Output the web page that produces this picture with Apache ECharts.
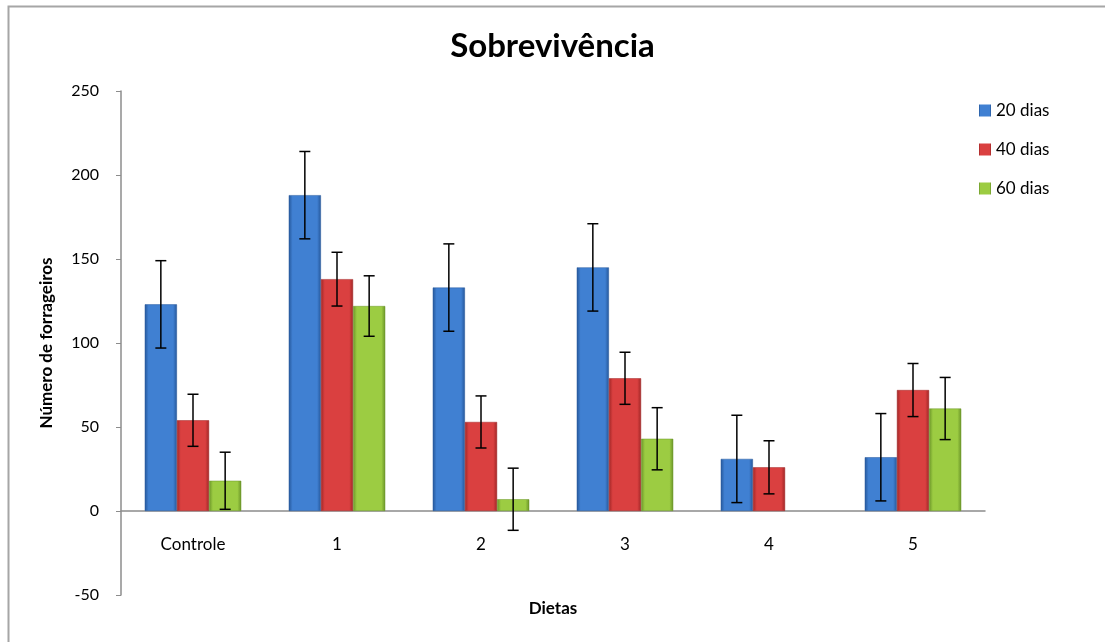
<!DOCTYPE html>
<html>
<head>
<meta charset="utf-8">
<script src="https://cdn.jsdelivr.net/npm/echarts@6/dist/echarts.min.js"></script>
<style>html,body{margin:0;padding:0;background:#fff;}#c{width:1105px;height:642px;}</style>
</head>
<body>
<div id="c"></div>
<script>
var categories = ['Controle', '1', '2', '3', '4', '5'];
var seriesNames = ['20 dias', '40 dias', '60 dias'];
var dias20 = [123, 188, 133, 145, 31, 32];
var dias40 = [54, 138, 53, 79, 26, 72];
var dias60 = [18, 122, 7, 43, null, 61];
var err20 = [26, 26, 26, 26, 26, 26];
var err40 = [15.5, 16, 15.5, 15.5, 15.8, 15.8];
var err60 = [17, 18, 18.5, 18.5, null, 18.5];
var yTicks = [-50, 0, 50, 100, 150, 200, 250];

var FONT = 'Lato, "Open Sans", sans-serif';
var colors = [
  ['#25579a', '#4080d2', '#2c63ab'],
  ['#a02626', '#da4040', '#b03030'],
  ['#6a9428', '#9ccc42', '#7aa832']
];
function grad(c) {
  return new echarts.graphic.LinearGradient(0, 0, 1, 0, [
    {offset: 0, color: c[0]}, {offset: 0.12, color: c[1]},
    {offset: 0.88, color: c[1]}, {offset: 1, color: c[0]}
  ]);
}
var values = [dias20, dias40, dias60];
var errs = [err20, err40, err60];

var series = [];
values.forEach(function (vals, i) {
  series.push({
    name: seriesNames[i], type: 'bar', data: vals,
    barGap: '0%', barCategoryGap: '33%',
    itemStyle: {color: grad(colors[i]), borderColor: colors[i][0], borderWidth: 0.5},
    emphasis: {disabled: true}
  });
});
values.forEach(function (vals, i) {
  var data = [];
  vals.forEach(function (v, k) {
    if (v != null && errs[i][k] != null) data.push([k, v - errs[i][k], v + errs[i][k]]);
  });
  series.push({
    type: 'custom', name: seriesNames[i] + ' err', silent: true, z: 10,
    data: data,
    encode: {x: 0, y: [1, 2]},
    renderItem: function (params, api) {
      var k = api.value(0);
      var lo = api.coord([k, api.value(1)]);
      var hi = api.coord([k, api.value(2)]);
      var bw = api.size([1, 0])[0];
      var barW = bw * 0.67 / 3;
      var x = lo[0] + (i - 1) * barW;
      var cap = 5.5;
      var st = {stroke: '#000', lineWidth: 1.5};
      return {
        type: 'group',
        children: [
          {type: 'line', shape: {x1: x, y1: lo[1], x2: x, y2: hi[1]}, style: st},
          {type: 'line', shape: {x1: x - cap, y1: lo[1], x2: x + cap, y2: lo[1]}, style: st},
          {type: 'line', shape: {x1: x - cap, y1: hi[1], x2: x + cap, y2: hi[1]}, style: st}
        ]
      };
    }
  });
});

var chart = echarts.init(document.getElementById('c'));
chart.setOption({
  animation: false,
  backgroundColor: '#fff',
  title: {
    text: 'Sobrevivência', left: 'center', top: 25,
    textStyle: {fontFamily: FONT, fontSize: 33, fontWeight: 'bold', color: '#000'}
  },
  legend: {
    orient: 'vertical', left: 974, top: 97, itemGap: 22,
    itemWidth: 12, itemHeight: 12, icon: 'rect', itemStyle: {borderWidth: 0},
    data: seriesNames.map(function (n, i) { return {name: n, itemStyle: {color: grad(colors[i])}}; }),
    textStyle: {fontFamily: FONT, fontSize: 17, color: '#000'}
  },
  graphic: [{
    type: 'rect', shape: {x: 8.5, y: 6.5, width: 1200, height: 700},
    style: {fill: 'none', stroke: '#a6a6a6', lineWidth: 2}, silent: true
  }],
  grid: {left: 121, right: 120, top: 91, bottom: 47, containLabel: false, outerBoundsMode: 'none'},
  xAxis: {
    type: 'category', data: categories,
    name: 'Dietas', nameLocation: 'middle', nameGap: 5,
    nameTextStyle: {fontFamily: FONT, fontSize: 17, fontWeight: 'bold', color: '#000'},
    axisLine: {onZero: true, lineStyle: {color: '#8c8c8c', width: 1.5}},
    axisTick: {show: false},
    axisLabel: {fontFamily: FONT, fontSize: 17, color: '#000', margin: -59}
  },
  yAxis: {
    type: 'value', min: -50, max: 250, interval: 50,
    name: 'Número de forrageiros', nameLocation: 'middle', nameGap: 66, nameRotate: 90,
    nameTextStyle: {fontFamily: FONT, fontSize: 17, fontWeight: 'bold', color: '#000'},
    axisLine: {show: true, lineStyle: {color: '#8c8c8c', width: 1.5}},
    axisTick: {show: true, inside: false, length: 5, lineStyle: {color: '#8c8c8c'}},
    splitLine: {show: false},
    axisLabel: {fontFamily: FONT, fontSize: 16, color: '#000', margin: 22,
      formatter: function (v) { return yTicks.indexOf(v) >= 0 ? String(v) : ''; }}
  },
  series: series
});
</script>
</body>
</html>
